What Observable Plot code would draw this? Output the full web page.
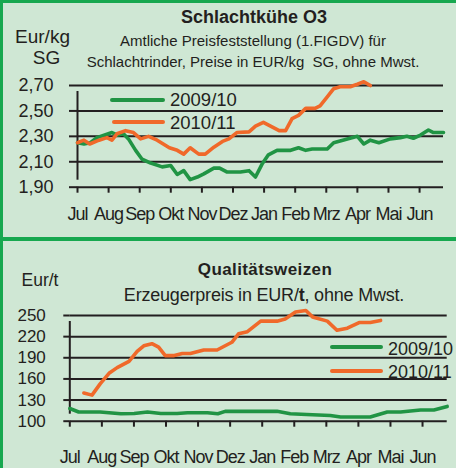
<!DOCTYPE html>
<html><head><meta charset="utf-8">
<script src="https://cdn.jsdelivr.net/npm/d3@7"></script>
<script src="https://cdn.jsdelivr.net/npm/@observablehq/plot@0.6"></script>
<style>
html,body{margin:0;padding:0;}
body{width:456px;height:468px;position:relative;overflow:hidden;background:#17a84f;font-family:"Liberation Sans",Arial,sans-serif;color:#231f20;}
.panel{position:absolute;background:#cfe7d4;}
.t{position:absolute;white-space:nowrap;line-height:1;}
.c{transform:translateX(-50%);}
.bar{position:absolute;border-radius:2px;}
.plot{position:absolute;left:0;}
g[aria-label="x-axis tick label"] text{letter-spacing:-1px;}
</style>
</head><body>
<div class="panel" style="left:3px;top:3px;width:453px;height:234px"></div>
<div class="panel" style="left:3px;top:241px;width:453px;height:227px"></div>

<div class="t c" style="left:254px;top:7.8px;font-size:18px;font-weight:bold">Schlachtkühe O3</div>
<div class="t c" style="left:42.5px;top:26.9px;font-size:19px">Eur/kg</div>
<div class="t c" style="left:46.5px;top:47.9px;font-size:19px">SG</div>
<div class="t c" style="left:253px;top:33px;font-size:15px">Amtliche Preisfeststellung (1.FIGDV) für</div>
<div class="t c" style="left:253px;top:54px;font-size:15px">Schlachtrinder, Preise in EUR/kg&nbsp; SG, ohne Mwst.</div>

<div class="t c" style="left:265px;top:260.6px;font-size:17px;font-weight:bold;letter-spacing:0.4px">Qualitätsweizen</div>
<div class="t c" style="left:40px;top:271.9px;font-size:17.5px">Eur/t</div>
<div class="t c" style="left:264px;top:285.5px;font-size:18px;letter-spacing:-0.2px">Erzeugerpreis in EUR/<b>t</b>, ohne Mwst.</div>

<div id="chartTop"></div>
<div id="chartBottom"></div>

<div class="bar" style="left:110px;top:98.3px;width:55px;height:3.6px;background:#209444"></div>
<div class="t" style="left:170px;top:91.3px;font-size:18.5px">2009/10</div>
<div class="bar" style="left:112px;top:120px;width:53px;height:3.6px;background:#f0692a"></div>
<div class="t" style="left:170px;top:114.3px;font-size:18.5px">2010/11</div>

<div class="bar" style="left:330px;top:344.8px;width:53px;height:4px;background:#209444"></div>
<div class="t" style="left:388px;top:339.8px;font-size:18px">2009/10</div>
<div class="bar" style="left:330px;top:368.8px;width:53px;height:4px;background:#f0692a"></div>
<div class="t" style="left:388px;top:363.1px;font-size:18px">2010/11</div>

<script>
const months = ["Jul","Aug","Sep","Okt","Nov","Dez","Jan","Feb","Mrz","Apr","Mai","Jun"];
const seasons = ["2009/10","2010/11"];

// Schlachtkühe O3 (EUR/kg SG), by week of season
const kuh09Week = [0,0.9,1.8,2.7,4.8,5.6,6.4,7.1,8.1,9,10.2,11.8,13,13.9,14.8,15.7,16.7,17.6,19,19.8,20.8,22.7,23.9,24.8,25.7,26.6,27.8,29.7,30.8,31.8,32.7,34.8,35.7,37.6,39,39.9,40.8,42,43.6,45,45.9,46.8,47.8,48.9,49.6,51];
const kuh09Val  = [2.25,2.24,2.25,2.29,2.33,2.31,2.32,2.28,2.19,2.12,2.09,2.06,2.07,2.00,2.03,1.96,1.98,2.005,2.05,2.05,2.02,2.02,2.03,1.98,2.08,2.155,2.19,2.19,2.21,2.19,2.20,2.20,2.25,2.28,2.30,2.24,2.27,2.25,2.28,2.29,2.30,2.285,2.31,2.35,2.33,2.33];
const kuh10Week = [0,0.9,1.7,3,4.1,4.8,5.5,6.7,7.8,8.8,9.9,11.1,12.8,13.9,14.8,15.7,16.9,17.8,19,20.2,21.1,22.2,23.9,24.8,25.9,26.9,28.1,29,29.9,30.8,31.8,33.1,33.8,34.8,35.7,36.6,38,39,39.9,40.8];
const kuh10Val  = [2.25,2.27,2.24,2.27,2.29,2.27,2.32,2.345,2.33,2.28,2.30,2.27,2.21,2.19,2.16,2.21,2.16,2.16,2.215,2.26,2.28,2.33,2.335,2.38,2.41,2.38,2.345,2.345,2.44,2.465,2.52,2.52,2.54,2.61,2.675,2.69,2.69,2.71,2.73,2.70];
const kuhTicks = [1.9,2.1,2.3,2.5,2.7];

// Qualitätsweizen (EUR/t)
const wz09Week = [0,1.2,4.1,6.9,8.7,10.5,12.3,14.5,15.9,18.6,20,21,24,28,29.8,32,35.2,36.6,40.6,42.9,44.7,47.4,49.2,51];
const wz09Val  = [118,113,113,110.5,111,113,111,111,112,112,110.5,114,114,114,110.5,109.5,108,106,106,113,113,116,116,121];
const wz10Week = [1.9,3.0,4.1,5.3,6.4,8.0,9.1,10,11.1,12,12.9,14,15.2,16.3,18.1,19.9,21.9,22.8,24,25.8,28,29.1,30.5,31.9,32.8,34.8,36.1,37.5,39.1,40.6,42];
const wz10Val  = [140,137,153,168,176,185,199,207,210,205,193,193,196,196,201,201,212,224,227,242,242,245,255,257,248,242,229,232,240,240,243];
const wzTicks = [100,130,160,190,220,250];

const colors = ["#209444","#f0692a"];
const dark = "#231f20";
const monthTicks = months.map((m,i) => i*52/12);
const monthFmt = d => months[Math.round(d*12/52)];

function rows(weeks, vals, season){ return weeks.map((w,i)=>({week:w, value:vals[i], season})); }

function chart({data, domain, ticks, fmt, height, mt, mb, ml, mr, yFont, ySize, yPad, xPad}) {
  return Plot.plot({
    width: 456, height,
    marginTop: mt, marginBottom: mb, marginLeft: ml, marginRight: mr,
    style: {background:"transparent", overflow:"visible", fontFamily:'"Liberation Sans",Arial,sans-serif', color: dark},
    x: {domain:[0,51]},
    y: {domain},
    color: {domain: seasons, range: colors},
    marks: [
      Plot.gridY({ticks, stroke: dark, strokeOpacity: 1, strokeWidth: 2}),
      Plot.axisY({ticks, tickSize: ySize, tickPadding: yPad, tickFormat: fmt, fontSize: yFont, stroke: dark, strokeWidth: 2, label: null}),
      Plot.axisX({ticks: monthTicks, tickSize: 6, tickPadding: xPad, tickFormat: monthFmt, fontSize: 18, stroke: dark, strokeWidth: 2, label: null}),
      Plot.ruleX([0], {y1: domain[0], y2: domain[1], insetTop: -7, insetBottom: -6, stroke: dark, strokeWidth: 2}),
      Plot.line(data, {x:"week", y:"value", z:"season", stroke:"season", strokeWidth: 3.6, strokeLinejoin:"round"})
    ]
  });
}

const svgTop = chart({
  data: [...rows(kuh09Week,kuh09Val,seasons[0]), ...rows(kuh10Week,kuh10Val,seasons[1])],
  domain: [1.9,2.7], ticks: kuhTicks, fmt: d => d.toFixed(2).replace(".", ","),
  height: 237, mt: 85, mb: 50.3, ml: 77, mr: 13, yFont: 18, ySize: 8, yPad: 16, xPad: 14
});
svgTop.classList.add("plot"); svgTop.style.top = "0px";
document.getElementById("chartTop").appendChild(svgTop);

const svgBottom = chart({
  data: [...rows(wz09Week,wz09Val,seasons[0]), ...rows(wz10Week,wz10Val,seasons[1])],
  domain: [100,250], ticks: wzTicks, fmt: d => String(d),
  height: 227, mt: 74, mb: 47.3, ml: 69.3, mr: 9.3, yFont: 17, ySize: 6, yPad: 18, xPad: 23
});
svgBottom.classList.add("plot"); svgBottom.style.top = "241px";
document.getElementById("chartBottom").appendChild(svgBottom);
</script>
</body></html>
